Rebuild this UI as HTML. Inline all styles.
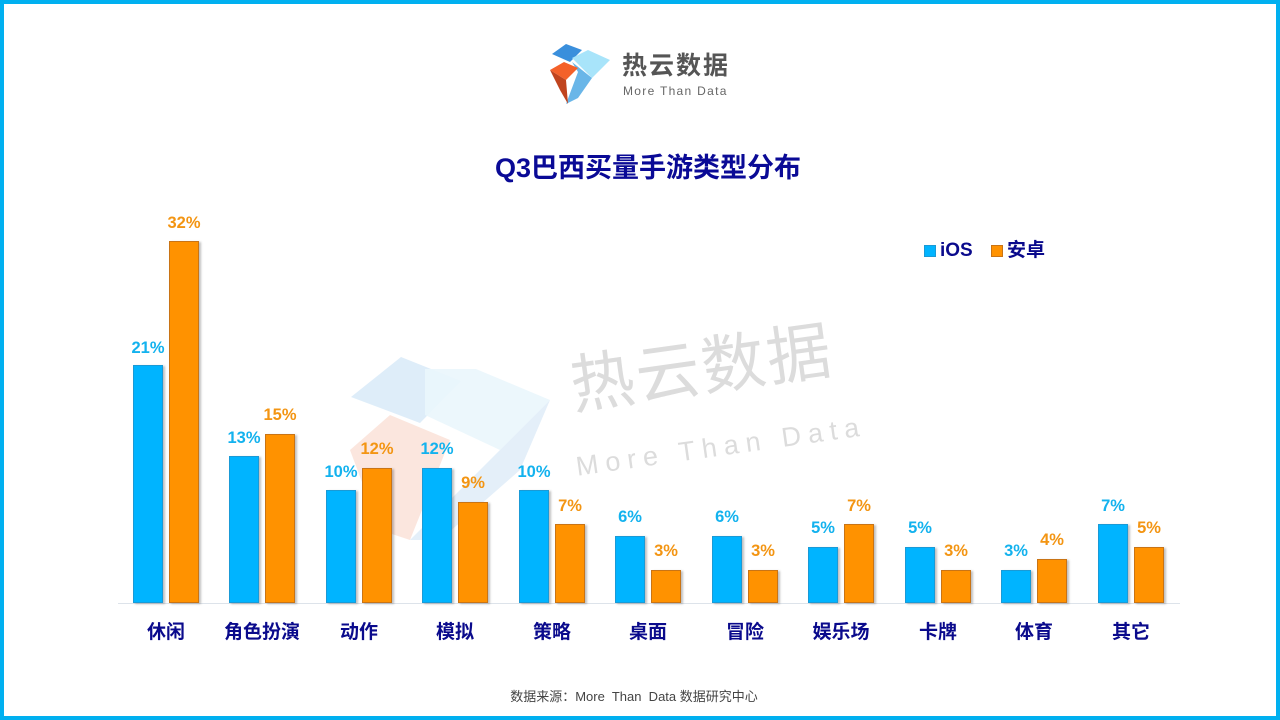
<!DOCTYPE html>
<html><head><meta charset="utf-8"><style>
*{margin:0;padding:0;box-sizing:border-box}
body{width:1280px;height:720px;position:relative;overflow:hidden;background:#fff;font-family:"Liberation Sans","Noto Sans CJK SC",sans-serif}
.frame{position:absolute;left:0;top:0;width:1280px;height:720px;border:4px solid #00b0f0}
.b{position:absolute;width:30px;bottom:117px;box-shadow:2px 1px 2px rgba(0,0,0,.25)}
.i{background:#00b4ff;border:1px solid #1a9ad6}
.a{background:#ff9200;border:1px solid #c97415}
.l{position:absolute;width:60px;text-align:center;font-weight:bold;font-size:16.5px;line-height:18px}
.li{color:#13b2ee}.la{color:#f39513}
.c{position:absolute;top:621px;width:120px;text-align:center;font-weight:bold;font-size:19px;color:#0a0a8c;line-height:24px}
</style></head><body>
<svg style="position:absolute;left:0;top:0" width="1280" height="720">
<polygon points="351,397 401,357 461,381 420,423" fill="#d6e8f8" opacity=".8"/>
<polygon points="425,369 476,369 550,400 500,450 425,415" fill="#eaf6fc" opacity=".9"/>
<polygon points="350,450 390,415 450,440 410,540 380,530" fill="#fadbd0" opacity=".7"/>
<polygon points="500,450 550,400 520,470 440,540 410,540" fill="#d8e8f6" opacity=".7"/>
</svg>
<div style="position:absolute;left:566px;top:352px;font-size:64px;line-height:70px;color:#dcdcdc;transform:rotate(-8deg);transform-origin:left top;letter-spacing:2px">热云数据</div>
<div style="position:absolute;left:574px;top:452px;font-size:27px;color:#dcdcdc;transform:rotate(-8deg);transform-origin:left top;letter-spacing:7px">More Than Data</div>
<svg style="position:absolute;left:548px;top:42px" width="70" height="66">
<polygon points="4,12 18,2 34,8 22,20" fill="#3a8fdc"/>
<polygon points="24,16 40,8 62,18 44,36" fill="#a8e4fa"/>
<polygon points="24,20 44,36 30,56 18,62 30,30" fill="#6ab6e8"/>
<polygon points="2,28 16,20 30,26 18,38" fill="#f4612a"/>
<polygon points="2,28 18,38 20,62 12,48" fill="#c0441e"/>
</svg>
<div style="position:absolute;left:622px;top:51px;font-size:25px;font-weight:bold;color:#555;letter-spacing:2px;line-height:30px">热云数据</div>
<div style="position:absolute;left:623px;top:84px;font-size:12px;color:#666;letter-spacing:1.3px">More Than Data</div>
<div style="position:absolute;left:0;width:1296px;top:151px;text-align:center;font-weight:bold;font-size:27px;color:#0a0a96;line-height:34px">Q3巴西买量手游类型分布</div>
<div style="position:absolute;left:924px;top:245px;width:12px;height:12px;background:#00b4ff;border:1px solid #1a9ad6"></div>
<div style="position:absolute;left:940px;top:240px;font-weight:bold;font-size:19px;line-height:22px;color:#0a0a8c">iOS</div>
<div style="position:absolute;left:991px;top:245px;width:12px;height:12px;background:#ff9200;border:1px solid #c97415"></div>
<div style="position:absolute;left:1007px;top:240px;font-weight:bold;font-size:19px;line-height:22px;color:#0a0a8c">安卓</div>
<div style="position:absolute;left:118px;top:603px;width:1062px;height:1px;background:#dde3ea"></div>
<div class="b i" style="left:133px;height:238px"></div><div class="b a" style="left:169px;height:362px"></div>
<div class="b i" style="left:229px;height:147px"></div><div class="b a" style="left:265px;height:169px"></div>
<div class="b i" style="left:326px;height:113px"></div><div class="b a" style="left:362px;height:135px"></div>
<div class="b i" style="left:422px;height:135px"></div><div class="b a" style="left:458px;height:101px"></div>
<div class="b i" style="left:519px;height:113px"></div><div class="b a" style="left:555px;height:79px"></div>
<div class="b i" style="left:615px;height:67px"></div><div class="b a" style="left:651px;height:33px"></div>
<div class="b i" style="left:712px;height:67px"></div><div class="b a" style="left:748px;height:33px"></div>
<div class="b i" style="left:808px;height:56px"></div><div class="b a" style="left:844px;height:79px"></div>
<div class="b i" style="left:905px;height:56px"></div><div class="b a" style="left:941px;height:33px"></div>
<div class="b i" style="left:1001px;height:33px"></div><div class="b a" style="left:1037px;height:44px"></div>
<div class="b i" style="left:1098px;height:79px"></div><div class="b a" style="left:1134px;height:56px"></div>
<div class="l li" style="left:118px;top:339px">21%</div><div class="l la" style="left:154px;top:214px">32%</div>
<div class="l li" style="left:214px;top:429px">13%</div><div class="l la" style="left:250px;top:406px">15%</div>
<div class="l li" style="left:311px;top:463px">10%</div><div class="l la" style="left:347px;top:440px">12%</div>
<div class="l li" style="left:407px;top:440px">12%</div><div class="l la" style="left:443px;top:474px">9%</div>
<div class="l li" style="left:504px;top:463px">10%</div><div class="l la" style="left:540px;top:497px">7%</div>
<div class="l li" style="left:600px;top:508px">6%</div><div class="l la" style="left:636px;top:542px">3%</div>
<div class="l li" style="left:697px;top:508px">6%</div><div class="l la" style="left:733px;top:542px">3%</div>
<div class="l li" style="left:793px;top:519px">5%</div><div class="l la" style="left:829px;top:497px">7%</div>
<div class="l li" style="left:890px;top:519px">5%</div><div class="l la" style="left:926px;top:542px">3%</div>
<div class="l li" style="left:986px;top:542px">3%</div><div class="l la" style="left:1022px;top:531px">4%</div>
<div class="l li" style="left:1083px;top:497px">7%</div><div class="l la" style="left:1119px;top:519px">5%</div>
<div class="c" style="left:106px">休闲</div>
<div class="c" style="left:202px">角色扮演</div>
<div class="c" style="left:299px">动作</div>
<div class="c" style="left:395px">模拟</div>
<div class="c" style="left:492px">策略</div>
<div class="c" style="left:588px">桌面</div>
<div class="c" style="left:685px">冒险</div>
<div class="c" style="left:781px">娱乐场</div>
<div class="c" style="left:878px">卡牌</div>
<div class="c" style="left:974px">体育</div>
<div class="c" style="left:1071px">其它</div>
<div style="position:absolute;left:0;width:1268px;top:686px;text-align:center;font-size:13px;color:#444">数据来源：More&nbsp; Than&nbsp; Data 数据研究中心</div>
<div class="frame"></div>
</body></html>
